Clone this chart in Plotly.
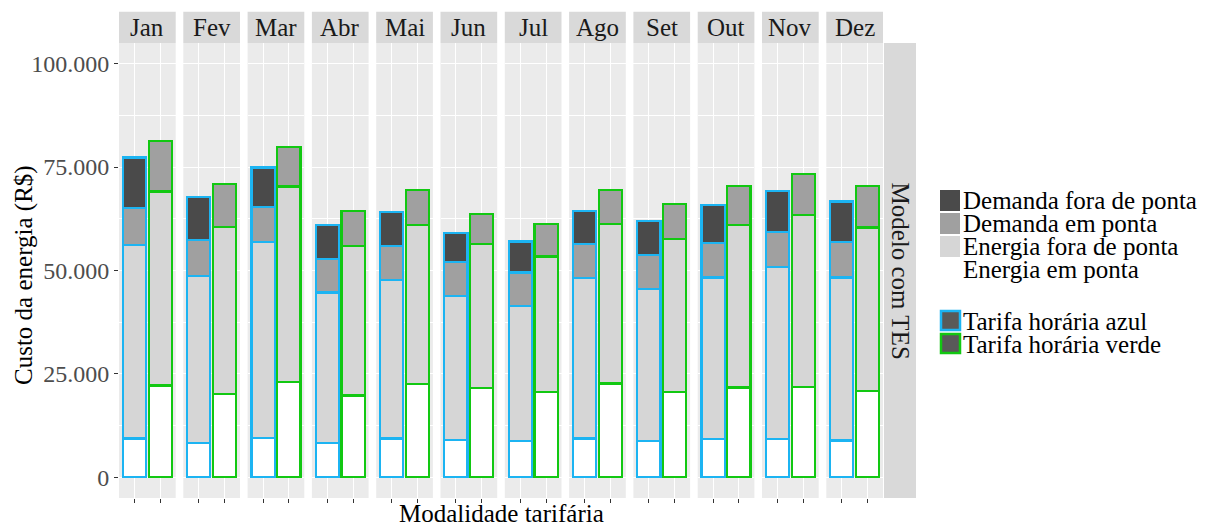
import plotly.graph_objects as go
from plotly.subplots import make_subplots

# ---------------- data (R$) ----------------
months = ["Jan", "Fev", "Mar", "Abr", "Mai", "Jun", "Jul", "Ago", "Set", "Out", "Nov", "Dez"]
tariffs = ["Tarifa horária azul", "Tarifa horária verde"]
components = ["Energia em ponta", "Energia fora de ponta", "Demanda em ponta", "Demanda fora de ponta"]

# Tarifa horária azul
azul_energia_ponta = [9400, 8300, 9500, 8300, 9400, 9100, 8700, 9400, 8800, 9200, 9200, 8900]
azul_energia_fora = [46800, 40400, 47400, 36400, 38400, 34800, 32800, 38800, 36700, 39100, 41600, 39400]
azul_demanda_ponta = [9000, 8700, 8500, 8100, 8200, 8100, 8000, 8300, 8300, 8300, 8600, 8600]
azul_demanda_fora = [12100, 10300, 9500, 8200, 8200, 7000, 7500, 7900, 8200, 9300, 9800, 9800]

# Tarifa horária verde
verde_energia_ponta = [22200, 20100, 23000, 19800, 22600, 21500, 20600, 22700, 20700, 21700, 21800, 20800]
verde_energia_fora = [46900, 40400, 47300, 36200, 38400, 34900, 32800, 38600, 36900, 39300, 41600, 39600]
verde_demanda_ponta = [12200, 10400, 9600, 8400, 8400, 7200, 7800, 8200, 8400, 9400, 9900, 10100]
verde_demanda_fora = [0, 0, 0, 0, 0, 0, 0, 0, 0, 0, 0, 0]

y_ticks = [0, 25000, 50000, 75000, 100000]
facet_row_label = "Modelo com TES"
x_title = "Modalidade tarifária"
y_title = "Custo da energia (R$)"

# ---------------- style ----------------
FONT = "Liberation Serif"
fill_colors = {
    "Energia em ponta": "#FFFFFF",
    "Energia fora de ponta": "#D6D6D6",
    "Demanda em ponta": "#A0A0A0",
    "Demanda fora de ponta": "#4A4A4A",
}
tariff_colors = {"Tarifa horária azul": "#1CB4F2", "Tarifa horária verde": "#12C812"}

azul = {
    "Energia em ponta": azul_energia_ponta,
    "Energia fora de ponta": azul_energia_fora,
    "Demanda em ponta": azul_demanda_ponta,
    "Demanda fora de ponta": azul_demanda_fora,
}
verde = {
    "Energia em ponta": verde_energia_ponta,
    "Energia fora de ponta": verde_energia_fora,
    "Demanda em ponta": verde_demanda_ponta,
    "Demanda fora de ponta": verde_demanda_fora,
}

OFF = 8                      # page body margin
W, H = 1211 - OFF, 527 - OFF
L, R, T, B = 119 - OFF, 883 - OFF, 43 - OFF, 498 - OFF   # plot area in figure pixels
pw = R - L
ph = B - T

n = len(months)
panel_w = 56.7
gap = (pw - n * panel_w) / (n - 1)
hspace = gap / pw

fig = make_subplots(rows=1, cols=n, shared_yaxes=True, horizontal_spacing=hspace)

for i, m in enumerate(months):
    for comp in components:
        fig.add_trace(
            go.Bar(
                x=tariffs,
                y=[azul[comp][i], verde[comp][i]],
                name=comp,
                width=0.9,
                marker=dict(
                    color=fill_colors[comp],
                    line=dict(color=[tariff_colors[t] for t in tariffs], width=2.2),
                ),
                showlegend=False,
            ),
            row=1,
            col=i + 1,
        )

fig.update_layout(
    barmode="stack",
    width=W,
    height=H,
    margin=dict(l=L, r=W - R, t=T, b=H - B),
    paper_bgcolor="white",
    plot_bgcolor="#EBEBEB",
    separators=",.",
    font=dict(family=FONT, color="#1A1A1A"),
    showlegend=False,
)

fig.update_xaxes(
    type="category",
    categoryorder="array",
    categoryarray=tariffs,
    range=[-0.6, 1.6],
    showticklabels=False,
    ticks="outside",
    ticklen=4,
    tickwidth=1,
    tickcolor="#333333",
    showgrid=True,
    gridcolor="white",
    gridwidth=1.2,
    zeroline=False,
    showline=False,
    fixedrange=True,
)
fig.update_yaxes(
    range=[-5000, 105000],
    tickvals=y_ticks,
    tickformat=",.0f",
    showgrid=True,
    gridcolor="white",
    gridwidth=1.2,
    minor=dict(dtick=12500, tick0=0, showgrid=True, gridcolor="white", gridwidth=0.5),
    zeroline=False,
    showline=False,
    fixedrange=True,
)
fig.update_yaxes(
    row=1,
    col=1,
    ticks="outside",
    ticklen=4,
    tickwidth=1,
    tickcolor="#333333",
    tickfont=dict(family=FONT, size=24, color="#4D4D4D"),
)


def px_x(v):
    """page pixel x -> paper"""
    return (v - OFF - L) / pw


def px_y(v):
    """page pixel y -> paper"""
    return (B - (v - OFF)) / ph


shapes = []
annotations = []
strip_y0 = 1.0
strip_y1 = px_y(11.7)

# top strips
for i, m in enumerate(months):
    xref = "x domain" if i == 0 else f"x{i + 1} domain"
    shapes.append(dict(type="rect", xref=xref, yref="paper", x0=0, x1=1, y0=strip_y0, y1=strip_y1,
                       fillcolor="#D9D9D9", line=dict(width=0), layer="below"))
    annotations.append(dict(text=m, xref=xref, yref="paper", x=0.5, y=(strip_y0 + strip_y1) / 2,
                            showarrow=False, xanchor="center", yanchor="middle",
                            font=dict(family=FONT, size=25, color="#1A1A1A")))

# right strip
rx0 = px_x(884)
rx1 = px_x(916)
shapes.append(dict(type="rect", xref="paper", yref="paper", x0=rx0, x1=rx1, y0=0, y1=1,
                   fillcolor="#D9D9D9", line=dict(width=0), layer="below"))
annotations.append(dict(text=facet_row_label, xref="paper", yref="paper", x=(rx0 + rx1) / 2, y=0.5,
                        textangle=90, showarrow=False, xanchor="center", yanchor="middle",
                        font=dict(family=FONT, size=25, color="#1A1A1A")))

# axis titles
annotations.append(dict(text=x_title, xref="paper", yref="paper", x=0.5, y=px_y(513),
                        showarrow=False, xanchor="center", yanchor="middle",
                        font=dict(family=FONT, size=25, color="#000000")))
annotations.append(dict(text=y_title, xref="paper", yref="paper", x=px_x(24), y=px_y(275),
                        textangle=-90, showarrow=False, xanchor="center", yanchor="middle",
                        font=dict(family=FONT, size=25, color="#000000")))

# custom legend: fills (top component first)
legend_fill_order = ["Demanda fora de ponta", "Demanda em ponta", "Energia fora de ponta", "Energia em ponta"]
key_top = 189
key_h = 23
for k, comp in enumerate(legend_fill_order):
    y0 = key_top + k * key_h
    shapes.append(dict(type="rect", xref="paper", yref="paper",
                       x0=px_x(940), x1=px_x(960), y0=px_y(y0 + key_h - 1), y1=px_y(y0 + 1),
                       fillcolor=fill_colors[comp], line=dict(width=0)))
    annotations.append(dict(text=comp, xref="paper", yref="paper", x=px_x(961), y=px_y(y0 + key_h / 2),
                            showarrow=False, xanchor="left", yanchor="middle",
                            font=dict(family=FONT, size=25, color="#000000")))

# custom legend: tariffs
tkey_top = 310
for k, t in enumerate(tariffs):
    y0 = tkey_top + k * 23
    shapes.append(dict(type="rect", xref="paper", yref="paper",
                       x0=px_x(941), x1=px_x(960), y0=px_y(y0 + 20), y1=px_y(y0 + 1),
                       fillcolor="#595959", line=dict(color=tariff_colors[t], width=2.5)))
    annotations.append(dict(text=t, xref="paper", yref="paper", x=px_x(961), y=px_y(y0 + 11),
                            showarrow=False, xanchor="left", yanchor="middle",
                            font=dict(family=FONT, size=25, color="#000000")))

fig.update_layout(shapes=shapes, annotations=annotations)
fig.write_html("out.html")
